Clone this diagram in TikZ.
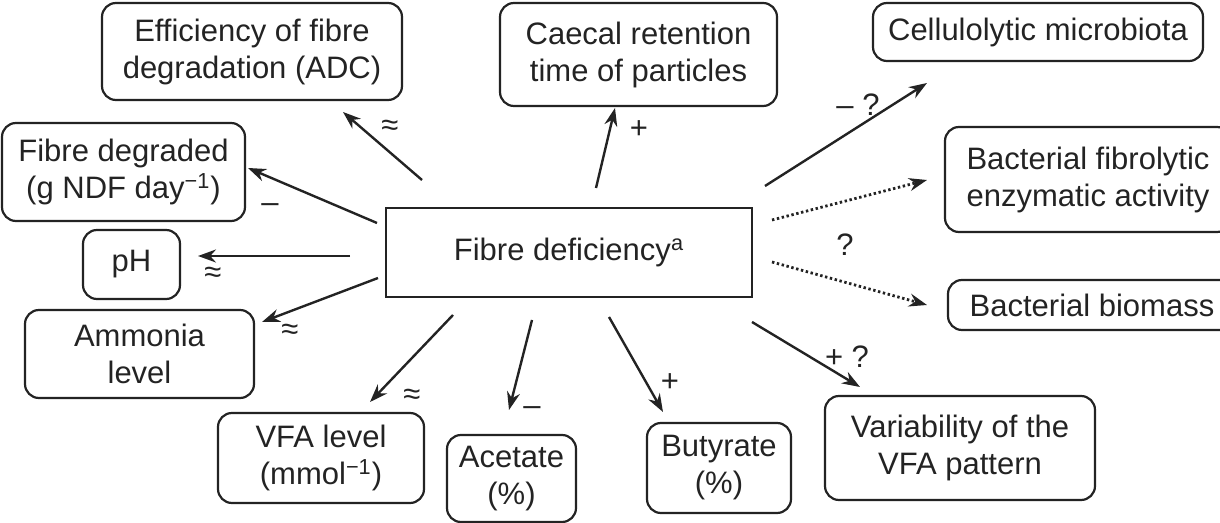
\documentclass[tikz,border=0pt]{standalone}
\usepackage{fontspec}
\setmainfont{Liberation Sans}
\usetikzlibrary{arrows.meta}
\definecolor{ink}{RGB}{35,35,35}
\tikzset{
  box/.style={draw=ink, line width=1.1pt, rounded corners=7pt, inner sep=0pt, align=center, text=ink,
    font=\fontsize{15.5}{18.5}\selectfont},
  arr/.style={draw=ink, line width=1.2pt, -{Stealth[length=9pt,width=6.5pt]}},
  dotarr/.style={arr, line width=1.4pt, dash pattern=on 1.2pt off 1.3pt},
  lab/.style={text=ink, inner sep=0pt, font=\fontsize{15.5}{18.5}\selectfont}
}
\begin{document}
\begin{tikzpicture}[x=0.5pt,y=-0.5pt]
\useasboundingbox (0,0) rectangle (1220,523);
% central
\node[box, rounded corners=0pt, minimum width=183pt, minimum height=44.5pt] (c) at (569,252.5) {Fibre deficiency\textsuperscript{a}};
% boxes
\node[box, minimum width=150pt, minimum height=48.5pt] (eff) at (252,51.5) {Efficiency of fibre\\degradation (ADC)};
\node[box, minimum width=121.5pt, minimum height=49pt] (deg) at (123.5,172) {Fibre degraded\\(g NDF day\textsuperscript{−1})};
\node[box, minimum width=48.5pt, minimum height=34.5pt] (ph) at (131.5,264.5) {pH};
\node[box, minimum width=114.5pt, minimum height=44pt] (amm) at (139.5,354) {Ammonia\\level};
\node[box, minimum width=103pt, minimum height=45pt] (vfa) at (321,458) {VFA level\\(mmol\textsuperscript{−1})};
\node[box, minimum width=64.5pt, minimum height=43.5pt] (ace) at (511.5,478.5) {Acetate\\(\%)};
\node[box, minimum width=72pt, minimum height=45pt] (but) at (719,468) {Butyrate\\(\%)};
\node[box, minimum width=135pt, minimum height=52pt] (var) at (960,448) {Variability of the\\VFA pattern};
\node[box, minimum width=138.5pt, minimum height=51.5pt] (cae) at (638.5,54.5) {Caecal retention\\time of particles};
\node[box, minimum width=165pt, minimum height=29pt] (cell) at (1038,32) {Cellulolytic microbiota};
\node[box, minimum width=143pt, minimum height=52.5pt] (bfe) at (1088,179.5) {Bacterial fibrolytic\\enzymatic activity};
\node[box, minimum width=144pt, minimum height=25pt] (bio) at (1092,305) {Bacterial biomass};
% arrows
\draw[arr] ([shift={(-147,-72.5)}]c.center) -- ([shift={(91,60.5)}]eff.center);
\draw[arr] ([shift={(-192,-29.5)}]c.center) -- ([shift={(124.5,-4)}]deg.center);
\draw[arr] ([shift={(-219,3.5)}]c.center) -- ([shift={(66.5,-8.5)}]ph.center);
\draw[arr] ([shift={(-191,25.5)}]c.center) -- ([shift={(122.5,-32)}]amm.center);
\draw[arr] ([shift={(-116,62.5)}]c.center) -- ([shift={(49,-56)}]vfa.center);
\draw[arr] ([shift={(-37,67.5)}]c.center) -- ([shift={(-2.5,-68.5)}]ace.center);
\draw[arr] ([shift={(40,64.5)}]c.center) -- ([shift={(-56,-56)}]but.center);
\draw[arr] ([shift={(183,69.5)}]c.center) -- ([shift={(-100,-61)}]var.center);
\draw[arr] ([shift={(27,-64.5)}]c.center) -- ([shift={(-23.5,53.5)}]cae.center);
\draw[arr] ([shift={(196,-66.5)}]c.center) -- ([shift={(-111,51)}]cell.center);
\draw[dotarr] ([shift={(203,-32.5)}]c.center) -- ([shift={(-161,0.5)}]bfe.center);
\draw[dotarr] ([shift={(203,9.5)}]c.center) -- ([shift={(-165,0)}]bio.center);
% labels
\node[lab] (l1) at (390,128) {≈};
\node[lab] (l2) at (270,208) {–};
\node[lab] (l3) at (213,275) {≈};
\node[lab] (l4) at (290,332) {≈};
\node[lab] (l5) at (412,397) {≈};
\node[lab] (l6) at (532,411) {–};
\node[lab] (l7) at (670,383) {+};
\node[lab] (l8) at (847,357) {+ ?};
\node[lab] (l9) at (639,130) {+};
\node[lab] (l10) at (858,105) {– ?};
\node[lab] (l11) at (845,245) {?};
\end{tikzpicture}
\end{document}
